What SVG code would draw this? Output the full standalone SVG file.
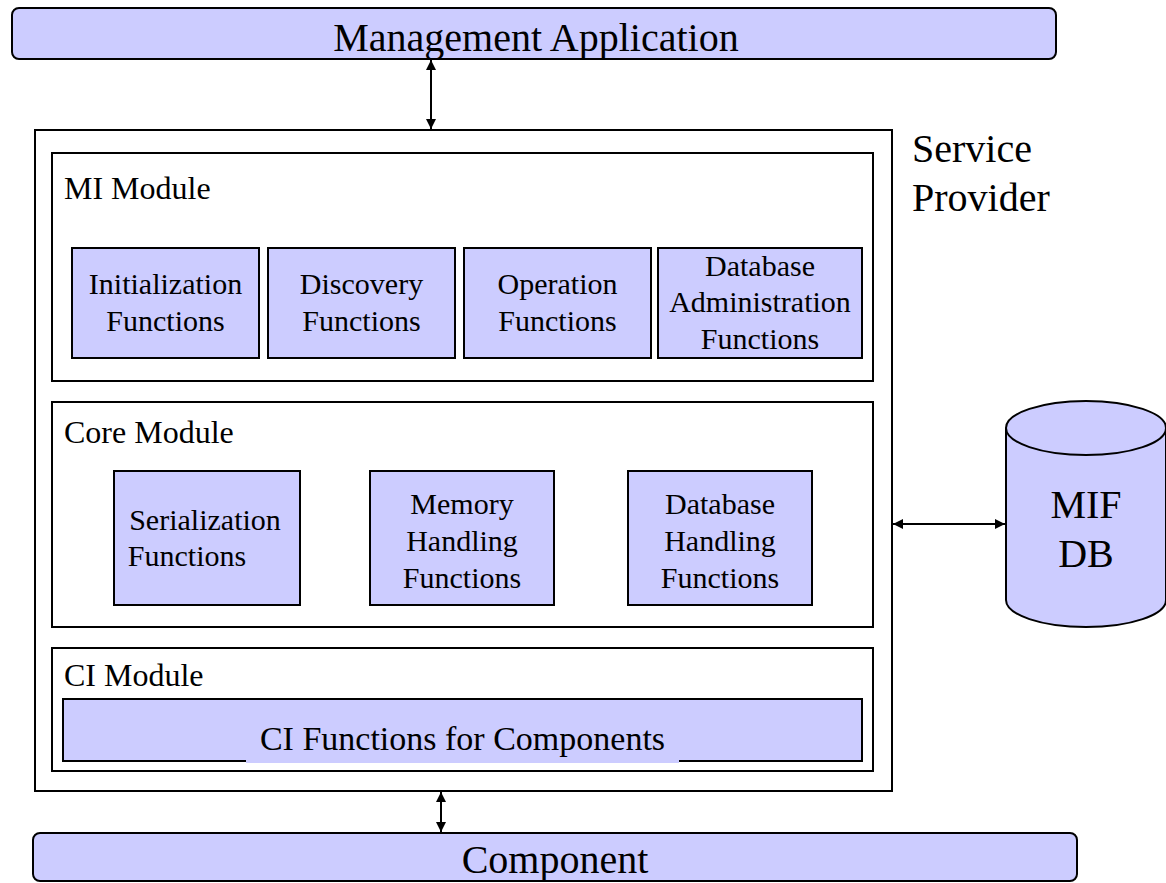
<svg xmlns="http://www.w3.org/2000/svg" width="1166" height="883" viewBox="0 0 1166 883" font-family="'Liberation Serif', 'Times New Roman', Tinos, 'DejaVu Serif', serif">
<style>
  .fill { fill: #ccccff; stroke: #000; stroke-width: 2; }
  .frame { fill: #ffffff; stroke: #000; stroke-width: 2; }
  text { font-family: 'Liberation Serif', 'Times New Roman', Tinos, 'DejaVu Serif', serif; fill: #000; }
  .big { font-size: 40px; }
  .lbl { font-size: 32px; }
  .fn { font-size: 30px; text-anchor: middle; }
  .mid { text-anchor: middle; }
  .conn { stroke: #000; stroke-width: 2; fill: none; marker-start: url(#ah); marker-end: url(#ah); }
</style>
<defs>
  <marker id="ah" viewBox="0 0 10 10" refX="10" refY="5" markerWidth="5.5" markerHeight="5" orient="auto-start-reverse" markerUnits="strokeWidth">
    <path d="M0,0 L10,5 L0,10 Z" fill="#000"/>
  </marker>
</defs>

<g id="management-application">
  <rect class="fill" x="12" y="8" width="1044" height="51" rx="7"/>
  <text class="big mid" x="536" y="51">Management Application</text>
</g>

<g id="service-provider">
  <rect class="frame" x="35" y="130" width="857" height="661"/>
  <text class="big" x="912" y="162">Service</text>
  <text class="big" x="912" y="211">Provider</text>
</g>

<g id="mi-module">
  <rect class="frame" x="52" y="153" width="821" height="228"/>
  <text class="lbl" x="64" y="199">MI Module</text>
</g>
<g id="initialization-functions">
  <rect class="fill" x="72" y="248" width="187" height="110"/>
  <text class="fn" x="165.5" y="294">Initialization</text>
  <text class="fn" x="165.5" y="331">Functions</text>
</g>
<g id="discovery-functions">
  <rect class="fill" x="268" y="248" width="187" height="110"/>
  <text class="fn" x="361.5" y="294">Discovery</text>
  <text class="fn" x="361.5" y="331">Functions</text>
</g>
<g id="operation-functions">
  <rect class="fill" x="464" y="248" width="187" height="110"/>
  <text class="fn" x="557.5" y="294">Operation</text>
  <text class="fn" x="557.5" y="331">Functions</text>
</g>
<g id="database-administration-functions">
  <rect class="fill" x="658" y="248" width="204" height="110"/>
  <text class="fn" x="760" y="276">Database</text>
  <text class="fn" x="760" y="312">Administration</text>
  <text class="fn" x="760" y="349">Functions</text>
</g>

<g id="core-module">
  <rect class="frame" x="52" y="402" width="821" height="225"/>
  <text class="lbl" x="64" y="443">Core Module</text>
</g>
<g id="serialization-functions">
  <rect class="fill" x="114" y="471" width="186" height="134"/>
  <text class="fn" x="205" y="530">Serialization</text>
  <text class="fn" x="187" y="566">Functions</text>
</g>
<g id="memory-handling-functions">
  <rect class="fill" x="370" y="471" width="184" height="134"/>
  <text class="fn" x="462" y="514">Memory</text>
  <text class="fn" x="462" y="551">Handling</text>
  <text class="fn" x="462" y="588">Functions</text>
</g>
<g id="database-handling-functions">
  <rect class="fill" x="628" y="471" width="184" height="134"/>
  <text class="fn" x="720" y="514">Database</text>
  <text class="fn" x="720" y="551">Handling</text>
  <text class="fn" x="720" y="588">Functions</text>
</g>

<g id="ci-module">
  <rect class="frame" x="52" y="648" width="821" height="123"/>
  <text class="lbl" x="64" y="686">CI Module</text>
</g>
<g id="ci-functions-for-components">
  <rect class="fill" x="63" y="699" width="799" height="62"/>
  <rect x="246" y="728" width="433" height="35" fill="#ccccff"/>
  <text class="mid" x="462.5" y="750" font-size="34">CI Functions for Components</text>
</g>

<g id="mif-db">
  <path class="fill" d="M1006,428 L1006,600 A80,27 0 0 0 1166,600 L1166,428"/>
  <ellipse class="fill" cx="1086" cy="428" rx="80" ry="27"/>
  <text class="big mid" x="1086" y="518">MIF</text>
  <text class="big mid" x="1086" y="567">DB</text>
</g>

<g id="component">
  <rect class="fill" x="33" y="833" width="1044" height="48" rx="7"/>
  <text class="big mid" x="555" y="873">Component</text>
</g>

<g id="connectors">
  <line class="conn" x1="431" y1="60" x2="431" y2="129"/>
  <line class="conn" x1="893" y1="524" x2="1005" y2="524"/>
  <line class="conn" x1="441" y1="792" x2="441" y2="832"/>
</g>
</svg>
